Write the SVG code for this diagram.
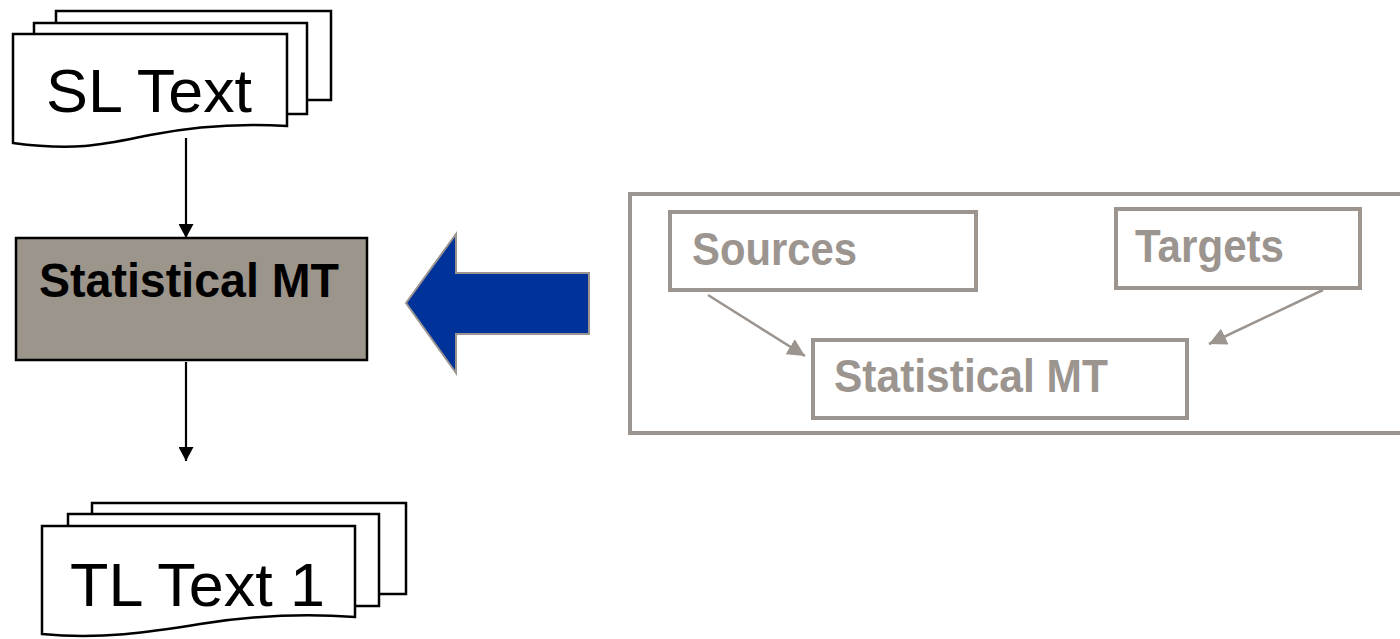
<svg xmlns="http://www.w3.org/2000/svg" width="1400" height="639" viewBox="0 0 1400 639">
<defs>
<style>
.pg{fill:#fff;stroke:#000;stroke-width:2.5}
.big{font-family:"Liberation Sans",Arial,sans-serif;font-size:61px;fill:#000}
.bold{font-family:"Liberation Sans",Arial,sans-serif;font-weight:bold}
.gbox{fill:#fff;stroke:#9b948f;stroke-width:4}
.gtxt{fill:#9b948f;font-size:46px}
.blk{stroke:#000;stroke-width:2.2;fill:none}
.gln{stroke:#9b948f;stroke-width:2.5;fill:none}
</style>
<marker id="ab" viewBox="0 0 14 15" refX="14" refY="7.5" markerWidth="14" markerHeight="15" markerUnits="userSpaceOnUse" orient="auto"><path d="M0,0 L14,7.5 L0,15 Z" fill="#000"/></marker>
<marker id="ag" viewBox="0 0 10 10" refX="10" refY="5" markerWidth="7" markerHeight="7" orient="auto"><path d="M0,0 L10,5 L0,10 Z" fill="#9b948f"/></marker>
</defs>
<rect width="1400" height="639" fill="#fff"/>

<g id="sl-text">
<rect class="pg" x="56" y="11" width="275" height="89"/>
<rect class="pg" x="34" y="23" width="273" height="91"/>
<path class="pg" d="M13,34 H287 V126 C240,123 190,127 150,135 C110,143 80,152 13,143 Z"/>
<text class="big" x="46" y="112" textLength="206" lengthAdjust="spacingAndGlyphs">SL Text</text>
</g>

<g id="smt-box">
<rect x="16" y="238" width="351" height="122" fill="#9c958b" stroke="#000" stroke-width="2.5"/>
<text class="bold" x="39" y="297" font-size="48" fill="#000" textLength="300" lengthAdjust="spacingAndGlyphs">Statistical MT</text>
</g>

<g id="tl-text">
<rect class="pg" x="92" y="503" width="314" height="91"/>
<rect class="pg" x="68" y="514" width="311" height="92"/>
<path class="pg" d="M42,526 H355 V617 C300,613 250,616 200,624 C150,632 100,640 42,634 Z"/>
<text class="big" x="70" y="606" textLength="255" lengthAdjust="spacingAndGlyphs">TL Text 1</text>
</g>

<g id="blue-arrow">
<path d="M406,303 L456,234 V273 H589 V334 H456 V373 Z" fill="#003399" stroke="#9b948f" stroke-width="2"/>
</g>

<g id="panel">
<rect x="630" y="194" width="780" height="239" fill="#fff" stroke="#9b948f" stroke-width="4"/>
</g>
<g id="sources">
<rect class="gbox" x="670" y="212" width="306" height="78"/>
<text class="bold gtxt" x="692" y="265" textLength="165" lengthAdjust="spacingAndGlyphs">Sources</text>
</g>
<g id="targets">
<rect class="gbox" x="1116" y="209" width="244" height="79"/>
<text class="bold gtxt" x="1135" y="262" textLength="149" lengthAdjust="spacingAndGlyphs">Targets</text>
</g>
<g id="smt-inner">
<rect class="gbox" x="813" y="340" width="374" height="78"/>
<text class="bold gtxt" x="834" y="392" textLength="274" lengthAdjust="spacingAndGlyphs">Statistical MT</text>
</g>

<g id="connectors">
<line class="blk" x1="186" y1="138" x2="186" y2="238" marker-end="url(#ab)"/>
<line class="blk" x1="186" y1="362" x2="186" y2="461" marker-end="url(#ab)"/>
<line class="gln" x1="708" y1="295" x2="805" y2="356" marker-end="url(#ag)"/>
<line class="gln" x1="1323" y1="290" x2="1209" y2="344" marker-end="url(#ag)"/>
</g>
</svg>
